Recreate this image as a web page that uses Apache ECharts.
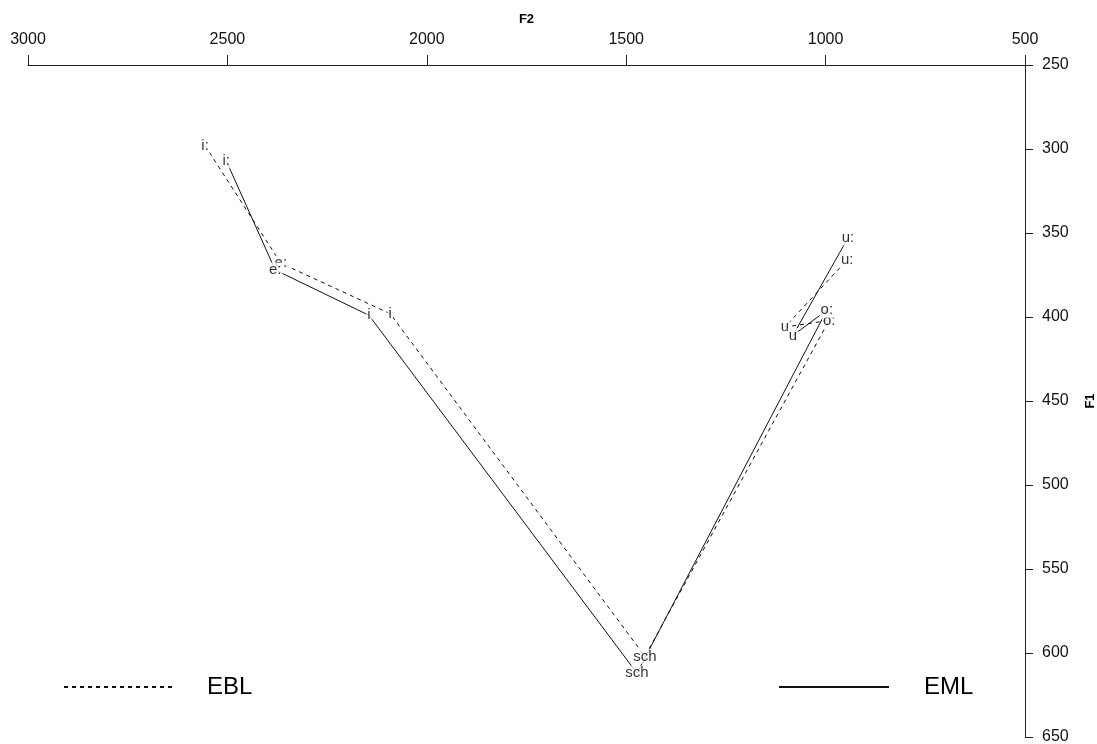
<!DOCTYPE html>
<html>
<head>
<meta charset="utf-8">
<script src="https://cdn.jsdelivr.net/npm/echarts@6/dist/echarts.min.js"></script>
<style>
  html, body { margin: 0; padding: 0; background: #fff; }
  #main { width: 1097px; height: 744px; }
</style>
</head>
<body>
<div id="main"></div>
<script>
// vowel labels, same order for both speakers
const vowels = ['i:', 'e:', 'i', 'sch', 'o:', 'u', 'u:']

// EBL (dashed)
const eblF2 = [2556, 2366, 2092, 1453, 991, 1102, 946]
const eblF1 = [298, 368, 398, 602, 402, 406, 366]

// EML (solid)
const emlF2 = [2503, 2380, 2145, 1473, 997, 1082, 944]
const emlF1 = [307, 372, 399, 612, 396, 411, 353]

const FONT = 'Liberation Sans, Arial, sans-serif'

function pairs(xs, ys) {
    return xs.map((x, i) => [x, ys[i], vowels[i]])
}

/** 文字标签，白底遮住线端 */
function labelSeries(name, data) {
    return {
        name: name + '-labels',
        type: 'scatter',
        data: data,
        symbol: 'circle',
        symbolSize: 1,
        itemStyle: { color: 'rgba(0,0,0,0)' },
        silent: true,
        z: 5,
        label: {
            show: true,
            position: 'inside',
            formatter: p => p.data[2],
            color: '#000',
            fontFamily: FONT,
            fontSize: 15,
            backgroundColor: '#fff',
            padding: [0, 1]
        }
    }
}

/** 图例：只画线，不画圆点 */
function legendAt(name, left, gap) {
    return {
        data: [name],
        left: left,
        top: 675,
        padding: 0,
        itemWidth: 110,
        itemHeight: 14,
        itemStyle: { color: 'rgba(0,0,0,0)', borderWidth: 0, opacity: 0 },
        textStyle: { fontFamily: FONT, fontSize: 24, color: '#000', padding: [0, 0, 0, gap] }
    }
}

let chart = echarts.init(document.getElementById('main'))

let option = {
    animation: false,
    backgroundColor: '#fff',
    grid: { left: 28, right: 72, top: 65, bottom: 7, outerBoundsMode: 'none', containLabel: false },
    xAxis: {
        type: 'value',
        position: 'top',
        inverse: true,
        min: 500,
        max: 3000,
        interval: 500,
        name: 'F2',
        nameLocation: 'middle',
        nameGap: 39,
        nameTextStyle: { fontFamily: FONT, fontSize: 13, fontWeight: 'bold', color: '#000' },
        splitLine: { show: false },
        axisLine: { show: true, onZero: false, lineStyle: { color: '#222', width: 1 } },
        axisTick: { show: true, length: 10, lineStyle: { color: '#222' } },
        axisLabel: { fontFamily: FONT, fontSize: 16, color: '#111', margin: 17, formatter: v => String(v) }
    },
    yAxis: {
        type: 'value',
        position: 'right',
        inverse: true,
        min: 250,
        max: 650,
        interval: 50,
        name: 'F1',
        nameLocation: 'middle',
        nameGap: 59,
        nameRotate: 90,
        nameTextStyle: { fontFamily: FONT, fontSize: 13, fontWeight: 'bold', color: '#000' },
        splitLine: { show: false },
        axisLine: { show: true, onZero: false, lineStyle: { color: '#222', width: 1 } },
        axisTick: { show: true, length: 8, lineStyle: { color: '#222' } },
        axisLabel: { fontFamily: FONT, fontSize: 16, color: '#111', margin: 17, formatter: v => String(v) }
    },
    legend: [
        legendAt('EBL', 63, 28),
        legendAt('EML', 778, 30)
    ],
    series: [
        {
            name: 'EBL',
            type: 'line',
            data: pairs(eblF2, eblF1),
            symbol: 'none',
            lineStyle: { color: '#111', width: 1, type: [4, 4] },
            itemStyle: { color: '#111' }
        },
        {
            name: 'EML',
            type: 'line',
            data: pairs(emlF2, emlF1),
            symbol: 'none',
            lineStyle: { color: '#111', width: 1, type: 'solid' },
            itemStyle: { color: '#111' }
        },
        labelSeries('EBL', pairs(eblF2, eblF1)),
        labelSeries('EML', pairs(emlF2, emlF1))
    ]
}

chart.setOption(option)
</script>
</body>
</html>
